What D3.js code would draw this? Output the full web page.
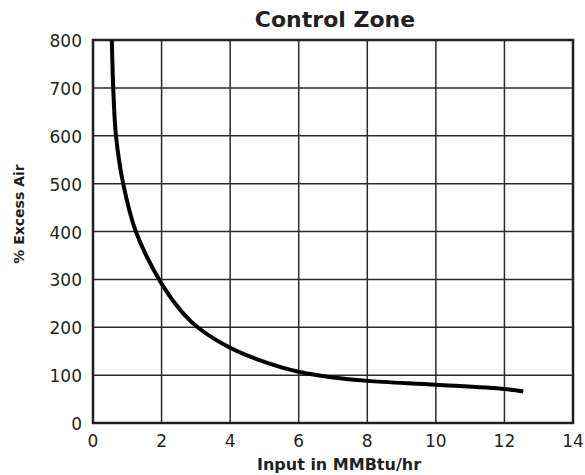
<!DOCTYPE html>
<html>
<head>
<meta charset="utf-8">
<script src="https://cdn.jsdelivr.net/npm/d3@7"></script>
<style>
  body { margin: 0; background: #fff; }
  text { font-family: "DejaVu Sans", sans-serif; fill: #231f20; }
</style>
</head>
<body>
<div id="chart"></div>
<script>
  const inputMMBtu = [0.55, 0.59, 0.67, 0.88, 1.25, 2, 2.63, 3.07, 4, 4.87, 6, 7, 8, 10, 12, 12.55];
  const excessAir = [800, 700, 600, 500, 400, 291, 229, 199, 157, 131, 107, 95, 88, 80, 71, 66];
  const xTicks = [0, 2, 4, 6, 8, 10, 12, 14];
  const yTicks = [0, 100, 200, 300, 400, 500, 600, 700, 800];

  const W = 585, H = 475;
  const margin = { top: 40, left: 93, right: 12, bottom: 52 };
  const width = W - margin.left - margin.right;
  const height = H - margin.top - margin.bottom;

  const svg = d3.select('#chart').append('svg')
    .attr('width', W).attr('height', H);

  const g = svg.append('g')
    .attr('transform', `translate(${margin.left}, ${margin.top})`);

  const x = d3.scaleLinear().domain([0, 14]).range([0, width]);
  const y = d3.scaleLinear().domain([0, 800]).range([height, 0]);

  // grid
  g.append('g').selectAll('line').data(xTicks.slice(1, -1)).enter().append('line')
    .attr('x1', d => x(d)).attr('x2', d => x(d)).attr('y1', 0).attr('y2', height)
    .attr('stroke', '#2a2a2a').attr('stroke-width', 1.5);
  g.append('g').selectAll('line').data(yTicks.slice(1, -1)).enter().append('line')
    .attr('y1', d => y(d)).attr('y2', d => y(d)).attr('x1', 0).attr('x2', width)
    .attr('stroke', '#2a2a2a').attr('stroke-width', 1.5);

  g.append('rect').attr('width', width).attr('height', height)
    .attr('fill', 'none').attr('stroke', '#231f20').attr('stroke-width', 2.5);

  // tick labels
  g.append('g').selectAll('text').data(xTicks).enter().append('text')
    .attr('x', d => x(d)).attr('y', height + 24)
    .attr('text-anchor', 'middle').style('font-size', '17px')
    .text(d => d);
  g.append('g').selectAll('text').data(yTicks).enter().append('text')
    .attr('x', -11).attr('y', d => y(d) + 7)
    .attr('text-anchor', 'end').style('font-size', '17px')
    .text(d => d);

  // curve
  const line = d3.line().curve(d3.curveCatmullRom.alpha(0.5))
    .x(d => x(d[0])).y(d => y(d[1]));
  g.append('path')
    .datum(d3.zip(inputMMBtu, excessAir))
    .attr('d', line)
    .attr('fill', 'none').attr('stroke', '#000').attr('stroke-width', 4);

  // titles
  svg.append('text').attr('x', 335).attr('y', 27)
    .attr('text-anchor', 'middle').style('font-size', '22px').style('font-weight', 700)
    .text('Control Zone');
  svg.append('text').attr('x', 339).attr('y', 470)
    .attr('text-anchor', 'middle').style('font-size', '16px').style('font-weight', 700)
    .text('Input in MMBtu/hr');
  svg.append('text')
    .attr('transform', `translate(24, 214) rotate(-90)`)
    .attr('text-anchor', 'middle').style('font-size', '14px').style('font-weight', 700)
    .text('% Excess Air');
</script>
</body>
</html>
